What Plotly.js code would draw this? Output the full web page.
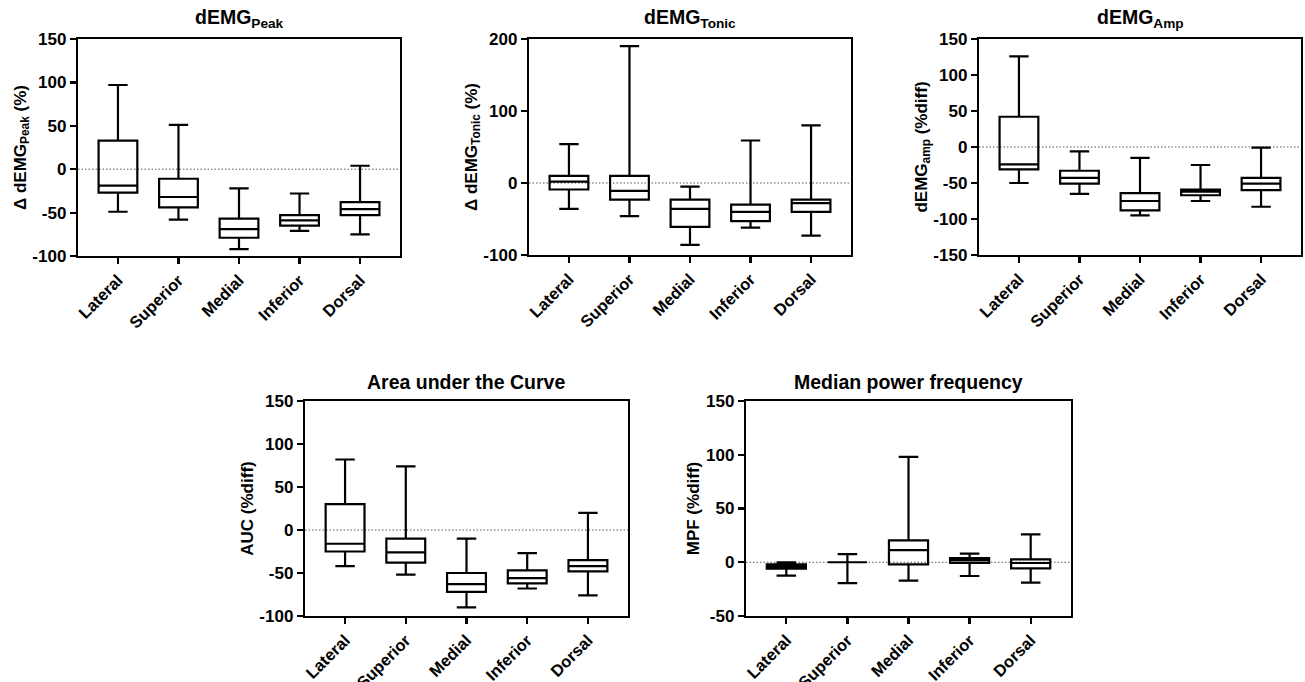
<!DOCTYPE html>
<html>
<head>
<meta charset="utf-8">
<script src="https://cdn.plot.ly/plotly-3.0.1.min.js"></script>
<style>html,body{margin:0;padding:0;background:#fff;}#chart{width:1305px;height:682px;}</style>
</head>
<body>
<div id="chart"></div>
<script>
const categories = ['Lateral', 'Superior', 'Medial', 'Inferior', 'Dorsal'];

const peakMin    = [-49, -58, -92, -71, -75];
const peakQ1     = [-27, -44, -79, -65, -53];
const peakMedian = [-19, -32, -69, -59, -46];
const peakQ3     = [33, -11, -57, -53, -38];
const peakMax    = [97, 51, -22, -28, 4];

const tonicMin    = [-36, -46, -86, -62, -73];
const tonicQ1     = [-9, -23, -61, -53, -40];
const tonicMedian = [2, -11, -36, -40, -28];
const tonicQ3     = [10, 10, -23, -30, -23];
const tonicMax    = [54, 190, -5, 59, 80];

const ampMin    = [-50, -65, -95, -75, -83];
const ampQ1     = [-31, -51, -88, -67, -60];
const ampMedian = [-24, -43, -75, -62, -51];
const ampQ3     = [42, -33, -64, -59, -43];
const ampMax    = [126, -6, -15, -25, -1];

const aucMin    = [-42, -52, -90, -68, -76];
const aucQ1     = [-25, -38, -72, -62, -48];
const aucMedian = [-16, -26, -63, -56, -42];
const aucQ3     = [30, -10, -50, -47, -35];
const aucMax    = [82, 74, -10, -27, 20];

const mpfMin    = [-12.5, -19.5, -17, -12.8, -19];
const mpfQ1     = [-6, 0, -2, -0.7, -5.7];
const mpfMedian = [-4, 0, 11.3, 1.7, -0.7];
const mpfQ3     = [-2, 0, 20.3, 3.9, 2.7];
const mpfMax    = [0, 7.5, 98, 8, 26];

const panelTitles = ['dEMG<sub>Peak</sub>', 'dEMG<sub>Tonic</sub>', 'dEMG<sub>Amp</sub>', 'Area under the Curve', 'Median power frequency'];
const yTitles = ['Δ dEMG<sub>Peak</sub> (%)', 'Δ dEMG<sub>Tonic</sub> (%)', 'dEMG<sub>amp</sub> (%diff)', 'AUC (%diff)', 'MPF (%diff)'];
const yRanges = [[-100, 150], [-100, 200], [-150, 150], [-100, 150], [-50, 150]];
const yTicks = [[-100, -50, 0, 50, 100, 150], [-100, 0, 100, 200], [-150, -100, -50, 0, 50, 100, 150], [-100, -50, 0, 50, 100, 150], [-50, 0, 50, 100, 150]];

const series = [
  [peakMin, peakQ1, peakMedian, peakQ3, peakMax],
  [tonicMin, tonicQ1, tonicMedian, tonicQ3, tonicMax],
  [ampMin, ampQ1, ampMedian, ampQ3, ampMax],
  [aucMin, aucQ1, aucMedian, aucQ3, aucMax],
  [mpfMin, mpfQ1, mpfMedian, mpfQ3, mpfMax]
];

const W = 1305, H = 682;
// pixel boxes [left, right, top, bottom]
const boxes = [
  [78, 400, 39, 256],
  [529, 851, 39, 255],
  [979, 1301, 39, 255],
  [305, 628, 401, 616],
  [746, 1071, 401, 616]
];

const FONT = 'Liberation Sans, Arial, Helvetica, sans-serif';
const traces = [];
const layout = {
  width: W, height: H,
  margin: {l: 0, r: 0, t: 0, b: 0},
  paper_bgcolor: '#fff', plot_bgcolor: '#fff',
  showlegend: false,
  font: {family: FONT, color: '#000', size: 17, weight: 'bold'},
  shapes: [], annotations: []
};

series.forEach((s, i) => {
  const n = i + 1;
  const xa = 'xaxis' + (n === 1 ? '' : n);
  const ya = 'yaxis' + (n === 1 ? '' : n);
  const xr = 'x' + (n === 1 ? '' : n);
  const yr = 'y' + (n === 1 ? '' : n);
  const b = boxes[i];
  traces.push({
    type: 'box', x: categories,
    lowerfence: s[0], q1: s[1], median: s[2], q3: s[3], upperfence: s[4],
    boxpoints: false, width: 0.64, whiskerwidth: 0.5,
    line: {color: '#000', width: 2.2}, fillcolor: 'rgba(255,255,255,0)',
    xaxis: xr, yaxis: yr, hoverinfo: 'skip'
  });
  layout[xa] = {
    domain: [b[0] / W, b[1] / W], anchor: yr,
    type: 'category', range: [-0.66, 4.66],
    showline: true, linecolor: '#000', linewidth: 2.2, mirror: true,
    ticks: 'outside', ticklen: 6, tickwidth: 2.2, tickcolor: '#000',
    tickangle: -45, tickfont: {family: FONT, size: 16.5, weight: 'bold', color: '#000'},
    showgrid: false, zeroline: false, fixedrange: true
  };
  layout[ya] = {
    domain: [1 - b[3] / H, 1 - b[2] / H], anchor: xr,
    range: yRanges[i], tickvals: yTicks[i], ticktext: yTicks[i].map(v => String(v)),
    showline: true, linecolor: '#000', linewidth: 2.2, mirror: true,
    ticks: 'outside', ticklen: 6, tickwidth: 2.2, tickcolor: '#000',
    tickfont: {family: FONT, size: 17, weight: 'bold', color: '#000'},
    showgrid: false, zeroline: false, fixedrange: true,
    title: {text: yTitles[i], font: {family: FONT, size: 17, weight: 'bold', color: '#000'}, standoff: 2}
  };
  layout.shapes.push({
    type: 'line', xref: xr + ' domain', yref: yr, x0: 0, x1: 1, y0: 0, y1: 0,
    line: {color: '#555', width: 1, dash: '1.5px,2px'}, layer: 'below'
  });
  layout.annotations.push({
    text: panelTitles[i], xref: 'paper', yref: 'paper',
    x: (b[0] + b[1]) / 2 / W, y: 1 - (b[2] - 6) / H,
    xanchor: 'center', yanchor: 'bottom', showarrow: false,
    font: {family: FONT, size: 19.5, weight: 'bold', color: '#000'}
  });
});

Plotly.newPlot('chart', traces, layout, {displayModeBar: false, staticPlot: true});
</script>
</body>
</html>
